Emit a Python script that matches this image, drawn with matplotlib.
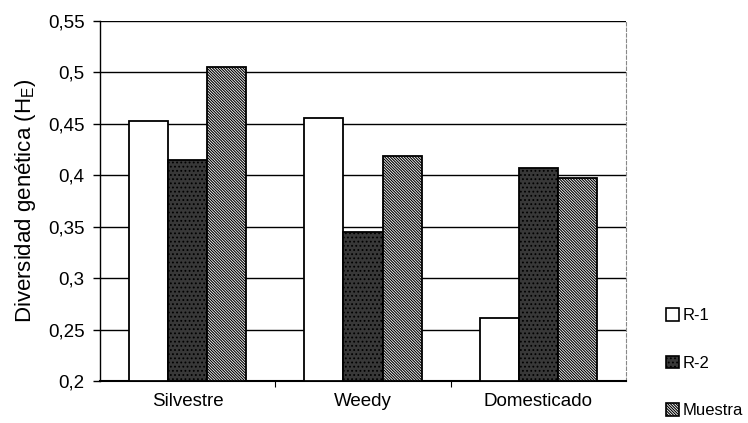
import numpy as np
import matplotlib.pyplot as plt
from matplotlib.patches import Patch

plt.rcParams['font.family'] = ['Liberation Sans', 'DejaVu Sans']
plt.rcParams['hatch.linewidth'] = 0.8

# data
categorias = ["Silvestre", "Weedy", "Domesticado"]
r1 = [0.453, 0.456, 0.261]
r2 = [0.415, 0.345, 0.407]
muestra = [0.505, 0.419, 0.397]
series = ["R-1", "R-2", "Muestra"]
yticks = [0.2, 0.25, 0.3, 0.35, 0.4, 0.45, 0.5, 0.55]
ytick_labels = ["0,2", "0,25", "0,3", "0,35", "0,4", "0,45", "0,5", "0,55"]

fig = plt.figure(figsize=(7.48, 4.23), dpi=100)
ax = fig.add_axes([0.1337, 0.0993, 0.7033, 0.8511])

x = np.arange(len(categorias))
w = 0.223
estilos = [
    dict(facecolor="white", hatch=None),
    dict(facecolor="#383838", hatch="...."),
    dict(facecolor="white", hatch="\\" * 12),
]
for i, (vals, st) in enumerate(zip([r1, r2, muestra], estilos)):
    ax.bar(x + (i - 1) * w, np.array(vals) - 0.2, width=w, bottom=0.2,
           facecolor=st["facecolor"], edgecolor="black",
           hatch=st["hatch"], linewidth=1.3, zorder=3)

ax.set_ylim(0.2, 0.55)
ax.set_xlim(-0.5, 2.5)
ax.set_yticks(yticks)
ax.set_yticklabels(ytick_labels, fontsize=13.5)
ax.yaxis.grid(True, color="black", linewidth=1.0, zorder=0)
ax.set_axisbelow(True)

ax.set_xticks(x)
ax.set_xticklabels(categorias, fontsize=13.5)
ax.tick_params(axis="x", which="major", length=0, pad=9)
ax.set_xticks([0.5, 1.5], minor=True)
ax.tick_params(axis="x", which="minor", length=4, direction="out", width=0.8)
ax.tick_params(axis="y", length=5, direction="out", width=1.0, pad=6)

ax.set_ylabel("Diversidad genética (H$_\\mathregular{E}$)", fontsize=16, labelpad=7)

ax.spines["top"].set_visible(False)
ax.spines["right"].set_linestyle((0, (3, 2)))
ax.spines["right"].set_color("#888888")
ax.spines["right"].set_linewidth(0.8)
ax.spines["left"].set_linewidth(1.0)
ax.spines["bottom"].set_linewidth(1.5)

handles = [Patch(facecolor=st["facecolor"], edgecolor="black",
                 hatch=st["hatch"], linewidth=1.2, label=s)
           for st, s in zip(estilos, series)]
fig.legend(handles=handles, loc="upper left", bbox_to_anchor=(0.89, 0.272),
           frameon=False, fontsize=12, handlelength=0.8, handleheight=0.8,
           handletextpad=0.2, labelspacing=1.95, borderaxespad=0,
           borderpad=0)

fig.savefig("out.png", dpi=100)
